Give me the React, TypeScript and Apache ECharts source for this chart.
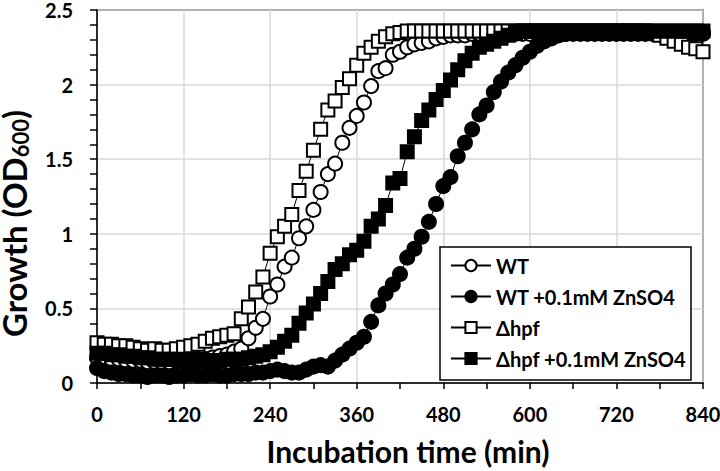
import React, { useEffect, useRef } from "react";
import * as echarts from "echarts";

// Incubation time (min), sampled every 10 min
const times = [
  0, 10, 20, 30, 40, 50, 60, 70, 80, 90, 100, 110, 120, 130, 140, 150, 160, 170, 180, 190,
  200, 210, 220, 230, 240, 250, 260, 270, 280, 290, 300, 310, 320, 330, 340, 350, 360, 370, 380, 390,
  400, 410, 420, 430, 440, 450, 460, 470, 480, 490, 500, 510, 520, 530, 540, 550, 560, 570, 580, 590,
  600, 610, 620, 630, 640, 650, 660, 670, 680, 690, 700, 710, 720, 730, 740, 750, 760, 770, 780, 790,
  800, 810, 820, 830, 840,
];

const xTicks = [0, 120, 240, 360, 480, 600, 720, 840];
const yTicks = [0, 0.5, 1, 1.5, 2, 2.5];

const seriesNames = ["WT", "WT +0.1mM ZnSO4", "Δhpf", "Δhpf +0.1mM ZnSO4"];

// WT (open circles)
const wt = [
  0.17, 0.17, 0.16, 0.16, 0.15, 0.15, 0.15, 0.14, 0.14, 0.14, 0.14, 0.15, 0.15, 0.15, 0.16, 0.16, 0.17, 0.18, 0.19, 0.21,
  0.23, 0.30, 0.37, 0.43, 0.58, 0.66, 0.78, 0.84, 0.97, 1.05, 1.16, 1.28, 1.40, 1.47, 1.61, 1.71, 1.79, 1.88, 1.99, 2.09,
  2.11, 2.20, 2.22, 2.25, 2.27, 2.28, 2.29, 2.31, 2.32, 2.33, 2.33, 2.33, 2.34, 2.34, 2.34, 2.34, 2.34, 2.34, 2.34, 2.34,
  2.34, 2.34, 2.34, 2.34, 2.34, 2.34, 2.34, 2.34, 2.34, 2.34, 2.34, 2.34, 2.34, 2.34, 2.34, 2.34, 2.34, 2.34, 2.34, 2.34,
  2.34, 2.34, 2.34, 2.34, 2.34,
];

// WT + 0.1mM ZnSO4 (filled circles)
const wtZn = [
  0.10, 0.08, 0.07, 0.06, 0.06, 0.05, 0.05, 0.04, 0.05, 0.05, 0.04, 0.05, 0.05, 0.06, 0.05, 0.05, 0.06, 0.05, 0.05, 0.06,
  0.06, 0.06, 0.07, 0.07, 0.08, 0.09, 0.08, 0.07, 0.07, 0.09, 0.11, 0.12, 0.11, 0.15, 0.19, 0.23, 0.27, 0.31, 0.41, 0.52,
  0.60, 0.66, 0.73, 0.84, 0.90, 0.98, 1.08, 1.20, 1.32, 1.38, 1.52, 1.61, 1.70, 1.80, 1.86, 1.95, 2.02, 2.08, 2.13, 2.18,
  2.22, 2.26, 2.29, 2.31, 2.33, 2.34, 2.35, 2.35, 2.35, 2.35, 2.35, 2.35, 2.35, 2.35, 2.35, 2.35, 2.35, 2.35, 2.35, 2.35,
  2.35, 2.35, 2.35, 2.35, 2.35,
];

// Δhpf (open squares)
const hpf = [
  0.27, 0.26, 0.26, 0.25, 0.25, 0.24, 0.23, 0.22, 0.23, 0.22, 0.22, 0.23, 0.24, 0.25, 0.26, 0.28, 0.30, 0.31, 0.32, 0.33,
  0.43, 0.51, 0.61, 0.71, 0.87, 0.98, 1.05, 1.13, 1.29, 1.42, 1.56, 1.70, 1.83, 1.89, 1.98, 2.04, 2.13, 2.21, 2.25, 2.29,
  2.32, 2.34, 2.35, 2.36, 2.36, 2.36, 2.36, 2.36, 2.36, 2.36, 2.36, 2.36, 2.36, 2.36, 2.36, 2.36, 2.36, 2.36, 2.36, 2.36,
  2.36, 2.36, 2.36, 2.36, 2.36, 2.36, 2.36, 2.36, 2.36, 2.36, 2.36, 2.36, 2.36, 2.36, 2.36, 2.36, 2.36, 2.35, 2.33, 2.31,
  2.29, 2.27, 2.25, 2.24, 2.22,
];

// Δhpf + 0.1mM ZnSO4 (filled squares)
const hpfZn = [
  0.20, 0.20, 0.19, 0.19, 0.18, 0.18, 0.17, 0.17, 0.16, 0.16, 0.16, 0.16, 0.15, 0.15, 0.15, 0.15, 0.15, 0.15, 0.16, 0.16,
  0.16, 0.17, 0.18, 0.19, 0.21, 0.24, 0.28, 0.32, 0.40, 0.47, 0.53, 0.60, 0.68, 0.76, 0.80, 0.86, 0.89, 0.95, 1.05, 1.10,
  1.19, 1.34, 1.37, 1.55, 1.65, 1.76, 1.83, 1.90, 1.96, 2.03, 2.10, 2.16, 2.21, 2.25, 2.27, 2.29, 2.31, 2.33, 2.35, 2.36,
  2.36, 2.36, 2.36, 2.36, 2.36, 2.36, 2.36, 2.36, 2.36, 2.36, 2.36, 2.36, 2.36, 2.36, 2.36, 2.36, 2.36, 2.36, 2.36, 2.36,
  2.36, 2.36, 2.36, 2.36, 2.36,
];

const FONT = "Lato";

function makeSeries(name: string, values: number[], symbol: string, filled: boolean, size: number) {
  return {
    name,
    type: "line",
    data: times.map((t, i) => [t, values[i]]),
    symbol,
    symbolSize: size,
    showSymbol: true,
    showAllSymbol: true,
    lineStyle: { color: "#000", width: 1 },
    itemStyle: { color: filled ? "#000" : "#fff", borderColor: "#000", borderWidth: 2 },
    emphasis: { disabled: true },
  };
}

export default function App() {
  const ref = useRef<HTMLDivElement>(null);
  useEffect(() => {
    if (!ref.current) return;
    const chart = echarts.init(ref.current, undefined, { renderer: "svg" });
    const labelStyle = { fontFamily: FONT, fontWeight: "bold", fontSize: 20, color: "#000" };
    chart.setOption({
      animation: false,
      backgroundColor: "#fff",
      grid: {
        left: 97,
        right: 17,
        top: 10,
        bottom: 88,
        containLabel: false,
        outerBoundsMode: "none",
        show: true,
        borderColor: "#000",
        borderWidth: 1.5,
        backgroundColor: "transparent",
      },
      legend: {
        data: seriesNames,
        orient: "vertical",
        left: 440,
        top: 247,
        padding: [8, 5, 11, 10],
        itemWidth: 40,
        itemHeight: 14,
        itemGap: 10,
        backgroundColor: "#fff",
        borderColor: "#000",
        borderWidth: 1.5,
        textStyle: { ...labelStyle, lineHeight: 21 },
      },
      xAxis: {
        type: "value",
        min: xTicks[0],
        max: xTicks[xTicks.length - 1],
        interval: 120,
        axisLine: { show: true, lineStyle: { color: "#000", width: 1.5 } },
        axisTick: { show: true, inside: false, length: 6, lineStyle: { color: "#000", width: 1.5 } },
        minorTick: { show: true, splitNumber: 2, length: 6, lineStyle: { color: "#000", width: 1.5 } },
        splitLine: { show: true, lineStyle: { color: "#d9d9d9", width: 1.5 } },
        axisLabel: { ...labelStyle, margin: 21 },
        name: "{s|}{t|Incubation time (min)}",
        nameLocation: "middle",
        nameGap: 53,
        nameTextStyle: {
          rich: {
            s: { width: 16 },
            t: { fontFamily: FONT, fontWeight: "bold", fontSize: 30, color: "#000" },
          },
        },
      },
      yAxis: {
        type: "value",
        min: yTicks[0],
        max: yTicks[yTicks.length - 1],
        interval: 0.5,
        axisLine: { show: true, lineStyle: { color: "#000", width: 1.5 } },
        axisTick: { show: true, inside: false, length: 7, lineStyle: { color: "#000", width: 1.5 } },
        minorTick: { show: true, splitNumber: 5, length: 7, lineStyle: { color: "#000", width: 1.5 } },
        splitLine: { show: true, lineStyle: { color: "#d9d9d9", width: 1.5 } },
        axisLabel: { ...labelStyle, margin: 24, formatter: (v: number) => String(v) },
        name: "{a|Growth (OD}{b|600}{a|)}{s|}",
        nameLocation: "middle",
        nameGap: 66,
        nameRotate: 90,
        nameTextStyle: {
          rich: {
            a: { fontFamily: FONT, fontWeight: "bold", fontSize: 33, color: "#000" },
            b: {
              fontFamily: FONT,
              fontWeight: "bold",
              fontSize: 22,
              color: "#000",
              verticalAlign: "bottom",
              padding: [13, 0, 0, 0],
            },
            s: { width: 54 },
          },
        },
      },
      series: [
        makeSeries(seriesNames[0], wt, "circle", false, 14),
        makeSeries(seriesNames[1], wtZn, "circle", true, 14),
        makeSeries(seriesNames[2], hpf, "rect", false, 13),
        makeSeries(seriesNames[3], hpfZn, "rect", true, 13),
      ],
    });
    return () => chart.dispose();
  }, []);
  return (
    <div
      ref={ref}
      style={{ position: "absolute", left: 0, top: 0, width: 720, height: 471 }}
    />
  );
}
